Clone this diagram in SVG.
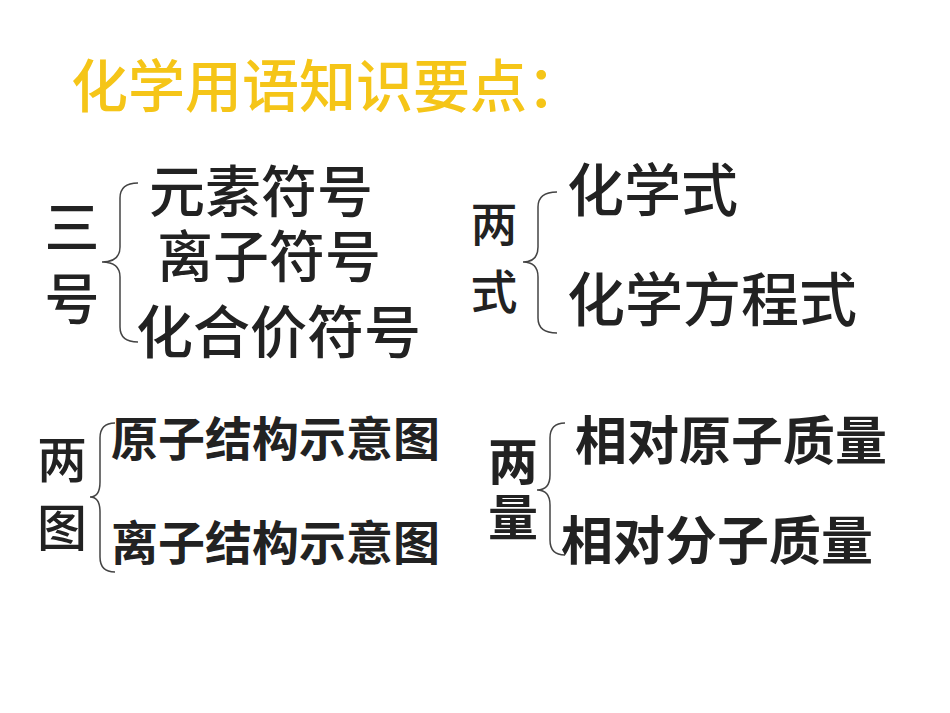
<svg xmlns="http://www.w3.org/2000/svg" width="950" height="713" viewBox="0 0 950 713">
<style>
.t{font-family:"Noto Sans CJK SC","Noto Sans",sans-serif;fill:#222}
.m{font-weight:500}
.b{font-weight:700}
.title{font-family:"Noto Sans CJK SC","Noto Sans",sans-serif;fill:#F5C518;font-size:57px;font-weight:500}
.br{fill:none;stroke:#444;stroke-width:1.5}
</style>
<rect width="950" height="713" fill="#fff"/>
<text id="title" class="title" x="71" y="107">化学用语知识要点：</text>
<g id="connectors">
<path class="br" d="M138,183 Q120,183 120,198 L120,247 Q120,262 102,262 Q120,262 120,277 L120,327 Q120,342 138,342"/>
<path class="br" d="M557,192 Q538,192 538,207 L538,247 Q538,262 523,262 Q538,262 538,277 L538,318 Q538,333 557,333"/>
<path class="br" d="M115,423 Q100,423 100,438 L100,482 Q100,497 90,497 Q100,497 100,512 L100,557 Q100,572 115,572"/>
<path class="br" d="M565,423 Q550,423 550,438 L550,475 Q550,490 537,490 Q550,490 550,505 L550,540 Q550,555 565,555"/>
</g>
<g id="g-sanhao">
<text class="t m" x="72" y="247" font-size="55" text-anchor="middle">三</text>
<text class="t m" x="72" y="319" font-size="55" text-anchor="middle">号</text>
</g>
<g id="n-yuansu"><text class="t m" x="149" y="212" font-size="56">元素符号</text></g>
<g id="n-lizi"><text class="t m" x="157" y="277" font-size="56">离子符号</text></g>
<g id="n-huahejia"><text class="t m" x="136" y="353" font-size="57">化合价符号</text></g>
<g id="g-liangshi">
<text class="t m" x="494" y="241" font-size="47" text-anchor="middle">两</text>
<text class="t m" x="494" y="309" font-size="47" text-anchor="middle">式</text>
</g>
<g id="n-huaxueshi"><text class="t m" x="567" y="211" font-size="57">化学式</text></g>
<g id="n-fangchengshi"><text class="t m" x="567" y="321" font-size="58">化学方程式</text></g>
<g id="g-liangtu">
<text class="t m" x="62" y="478" font-size="50" text-anchor="middle">两</text>
<text class="t m" x="62" y="546" font-size="50" text-anchor="middle">图</text>
</g>
<g id="n-yuanzi"><text class="t b" x="111" y="456" font-size="47">原子结构示意图</text></g>
<g id="n-lizijg"><text class="t b" x="111" y="560" font-size="47">离子结构示意图</text></g>
<g id="g-liangliang">
<text class="t b" x="513" y="480" font-size="50" text-anchor="middle">两</text>
<text class="t b" x="513" y="536" font-size="50" text-anchor="middle">量</text>
</g>
<g id="n-xdyz"><text class="t b" x="575" y="460" font-size="52">相对原子质量</text></g>
<g id="n-xdfz"><text class="t b" x="561" y="560" font-size="52">相对分子质量</text></g>
</svg>
